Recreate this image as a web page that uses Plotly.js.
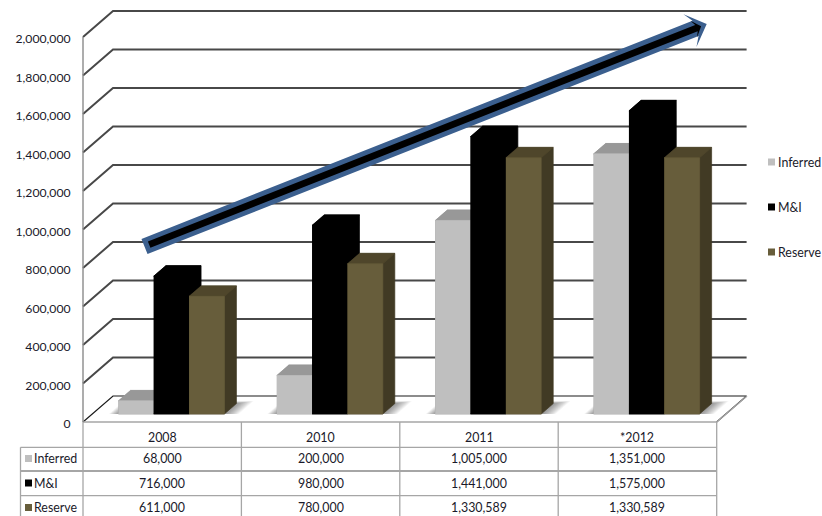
<!DOCTYPE html>
<html>
<head>
<meta charset="utf-8">
<script src="https://cdn.plot.ly/plotly-3.0.1.min.js"></script>
<style>html,body{margin:0;padding:0;background:#fff}#chart{width:822px;height:516px}</style>
</head>
<body>
<div id="chart"></div>
<script>
const categories = ['2008', '2010', '2011', '*2012'];
const inferred = [68000, 200000, 1005000, 1351000];
const measured = [716000, 980000, 1441000, 1575000];
const reserve = [611000, 780000, 1330589, 1330589];
const seriesNames = ['Inferred', 'M&I', 'Reserve'];
const tickValues = [0, 200000, 400000, 600000, 800000, 1000000, 1200000, 1400000, 1600000, 1800000, 2000000];

const frontColors = ['#BFBFBF', '#000000', '#675D3B'];
const topColors = ['#989898', '#000000', '#4F462B'];
const sideColors = ['#989898', '#000000', '#413A24'];

// Page geometry: the axes span the whole page, with a 1:1 link to pixels.
const W = 822, H = 516;
const originX = 83, originY = 422;
const pxPerCategory = 158.4, pxPerUnit = 0.0001925;
const toX = px => (px - originX) / pxPerCategory;
const toY = py => (originY - py) / pxPerUnit;

// Oblique projection of the 3-D box: depth 0 is the front edge of the floor, 1 the back wall.
const depthX = 30 / pxPerCategory, depthY = 26 / pxPerUnit;
const project = (c, v, d) => [c + d * depthX, v + d * depthY];

const barFront = 0.31, barBack = 0.71;
const groupInset = 0.165, barWidth = 0.223;

const traces = [];
function poly(points, fill, name, line) {
  traces.push({
    type: 'scatter', mode: 'lines', name: name, hoverinfo: 'skip', showlegend: false,
    x: points.map(p => p[0]), y: points.map(p => p[1]),
    fill: fill ? 'toself' : 'none', fillcolor: fill || undefined,
    line: line || { width: 0, color: fill }
  });
}
// Solid faces carry a hairline in their own colour so neighbouring faces leave no seam
const solid = color => ({ width: 0.7, color: color });

// Side walls, gridlines and floor edge
const gridLine = { color: '#484848', width: 2 };
tickValues.slice(1).forEach(v => {
  poly([project(0, v, 0), project(0, v, 1), project(4, v, 1)], null, 'grid ' + v, gridLine);
});
poly([project(0, 0, 0), project(0, 0, 1), project(4, 0, 1), project(4, 0, 0)], null, 'floor',
  { color: '#1a1a1a', width: 1.2 });

// Soft shadow on the floor round each group of columns: stacked translucent layers
categories.forEach((cat, i) => {
  const left = i + groupInset, right = left + 3 * barWidth;
  for (let k = 1; k <= 12; k++) {
    const back = barBack + k * 0.008;
    poly([
      project(left - k * 0.005, 0, barFront),
      project(right + k * 0.0075, 0, barFront),
      project(right + k * 0.0075, 0, back),
      project(left - k * 0.005, 0, back)
    ], 'rgba(0,0,0,0.04)', 'shadow ' + cat);
  }
});

// Columns, painted from back-left to front-right so that each hides what lies behind it
categories.forEach((cat, i) => {
  [inferred, measured, reserve].forEach((values, s) => {
    const v = values[i];
    const x0 = i + groupInset + s * barWidth, x1 = x0 + barWidth;
    const label = seriesNames[s] + ' ' + cat;
    poly([
      project(x0, 0, barFront), project(x1, 0, barFront), project(x1, 0, barBack),
      project(x1, v, barBack), project(x0, v, barBack), project(x0, v, barFront)
    ], sideColors[s], label + ' body', solid(sideColors[s]));
    poly([project(x0, v, barFront), project(x1, v, barFront), project(x1, v, barBack), project(x0, v, barBack)],
      topColors[s], label + ' top', solid(topColors[s]));
    poly([project(x0, 0, barFront), project(x1, 0, barFront), project(x1, v, barFront), project(x0, v, barFront)],
      frontColors[s], label, solid(frontColors[s]));
  });
});

// Growth arrow: blue outline with a black core, laid out along its own axis
const tail = [144.5, 246.5], tip = [706.7, 24];
const len = Math.hypot(tip[0] - tail[0], tip[1] - tail[1]);
const ux = (tip[0] - tail[0]) / len, uy = (tip[1] - tail[1]) / len;
const arrowPt = (along, across) => {
  const px = tip[0] + ux * along - uy * across;
  const py = tip[1] + uy * along + ux * across;
  return [toX(px), toY(py)];
};
function arrow(tailAt, half, neck, barbAt, barb, tipAt) {
  return [
    arrowPt(-len + tailAt, -half), arrowPt(neck, -half), arrowPt(barbAt, -barb), arrowPt(tipAt, 0),
    arrowPt(barbAt, barb), arrowPt(neck, half), arrowPt(-len + tailAt, half)
  ];
}
poly(arrow(0, 8.2, -12, -18, 17.6, 0), '#3B5F8E', 'trend outline');
poly(arrow(5, 3.4, -11, -14, 9, -6), '#000000', 'trend');

// Data table rules
const tableGray = '#A6A6A6';
const rule = (x0, y0, x1, y1, w) => ({
  type: 'line', xref: 'x', yref: 'y', x0: toX(x0), y0: toY(y0), x1: toX(x1), y1: toY(y1),
  line: { color: tableGray, width: w || 1.3 }
});
const shapes = [];
shapes.push(rule(83, 422, 716.7, 422, 1.5));
shapes.push(rule(20.5, 447.3, 716.7, 447.3));
shapes.push(rule(20.5, 471, 716.7, 471, 1.8));
shapes.push(rule(20.5, 495.6, 716.7, 495.6));
shapes.push(rule(20.5, 447.3, 20.5, 516));
categories.forEach((cat, i) => {
  const x = originX + i * pxPerCategory;
  shapes.push(rule(x, 422, x, 516));
});
shapes.push(rule(716.7, 422, 716.7, 516));
// Outer front corner of the floor
shapes.push(rule(716.7, 422, 747, 396));

const font = { family: 'Lato, "Open Sans", sans-serif', size: 12.4, color: '#1a1a2a' };
const annotations = [];
const text = (t, x, py, anchor) => annotations.push({
  text: t, x: x, y: toY(py), xref: 'x', yref: 'y', showarrow: false,
  xanchor: anchor || 'center', yanchor: 'middle', font: font, borderpad: 0, borderwidth: 0
});
const swatch = (px, py, color) => shapes.push({
  type: 'rect', xref: 'x', yref: 'y', x0: toX(px), x1: toX(px + 7), y0: toY(py - 3.5), y1: toY(py + 3.5),
  fillcolor: color, line: { width: 0 }
});
const fmt = n => n.toLocaleString('en-US');
const rowY = [458.5, 483, 507.5];
const legendY = [162, 207, 252];
categories.forEach((cat, i) => text(cat, i + 0.5, 437));
[inferred, measured, reserve].forEach((values, s) => {
  swatch(25, rowY[s], frontColors[s]);
  text(seriesNames[s], toX(34), rowY[s], 'left');
  values.forEach((v, i) => text(fmt(v), i + 0.5, rowY[s]));
  swatch(768, legendY[s], frontColors[s]);
  text(seriesNames[s], toX(777.5), legendY[s], 'left');
});

Plotly.newPlot('chart', traces, {
  width: W, height: H, showlegend: false,
  margin: { l: 0, r: 0, t: 0, b: 0 },
  paper_bgcolor: '#fff', plot_bgcolor: '#fff',
  xaxis: { visible: false, range: [toX(0), toX(W)], fixedrange: true },
  yaxis: {
    range: [toY(H), toY(0)], anchor: 'free', position: originX / W, side: 'left',
    tickvals: tickValues, tickformat: ',', showgrid: false, zeroline: false, fixedrange: true,
    ticks: 'outside', ticklen: 10, tickcolor: 'rgba(0,0,0,0)',
    tickfont: Object.assign({}, font, { size: 12.2 }), ticklabelshift: 2,
    showline: false
  },
  shapes: shapes.concat([{
    type: 'line', xref: 'x', yref: 'y', x0: 0, x1: 0, y0: 0, y1: 2000000,
    line: { color: '#8a8a8a', width: 1.4 }
  }]),
  annotations: annotations
}, { displayModeBar: false, staticPlot: true });
</script>
</body>
</html>
